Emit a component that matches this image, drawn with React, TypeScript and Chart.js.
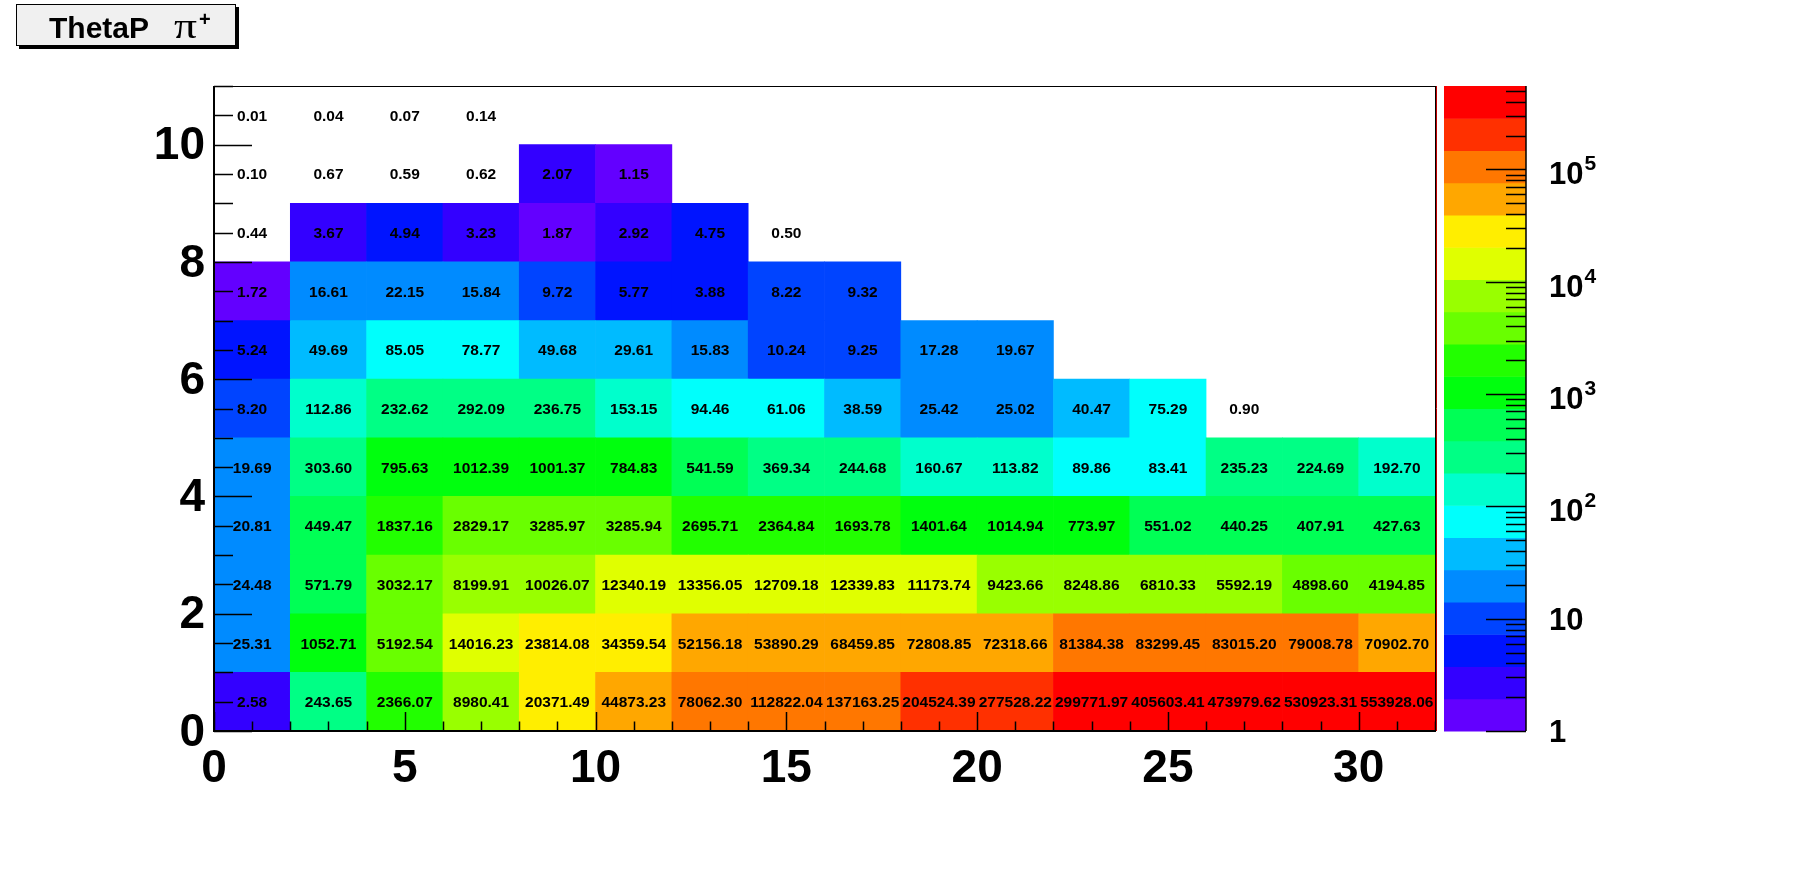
import React, { useEffect, useRef } from 'react';
import { Chart, registerables } from 'chart.js';

Chart.register(...registerables);

// ---- data ----
const xBinLow = [0, 2, 4, 6, 8, 10, 12, 14, 16, 18, 20, 22, 24, 26, 28, 30];
const xBinWidth = 2;
const yBinLow = [0, 1, 2, 3, 4, 5, 6, 7, 8, 9, 10];
const yBinWidth = 1;

const rowY0 = [2.58, 243.65, 2366.07, 8980.41, 20371.49, 44873.23, 78062.30, 112822.04, 137163.25, 204524.39, 277528.22, 299771.97, 405603.41, 473979.62, 530923.31, 553928.06];
const rowY1 = [25.31, 1052.71, 5192.54, 14016.23, 23814.08, 34359.54, 52156.18, 53890.29, 68459.85, 72808.85, 72318.66, 81384.38, 83299.45, 83015.20, 79008.78, 70902.70];
const rowY2 = [24.48, 571.79, 3032.17, 8199.91, 10026.07, 12340.19, 13356.05, 12709.18, 12339.83, 11173.74, 9423.66, 8248.86, 6810.33, 5592.19, 4898.60, 4194.85];
const rowY3 = [20.81, 449.47, 1837.16, 2829.17, 3285.97, 3285.94, 2695.71, 2364.84, 1693.78, 1401.64, 1014.94, 773.97, 551.02, 440.25, 407.91, 427.63];
const rowY4 = [19.69, 303.60, 795.63, 1012.39, 1001.37, 784.83, 541.59, 369.34, 244.68, 160.67, 113.82, 89.86, 83.41, 235.23, 224.69, 192.70];
const rowY5 = [8.20, 112.86, 232.62, 292.09, 236.75, 153.15, 94.46, 61.06, 38.59, 25.42, 25.02, 40.47, 75.29, 0.90, null, null];
const rowY6 = [5.24, 49.69, 85.05, 78.77, 49.68, 29.61, 15.83, 10.24, 9.25, 17.28, 19.67, null, null, null, null, null];
const rowY7 = [1.72, 16.61, 22.15, 15.84, 9.72, 5.77, 3.88, 8.22, 9.32, null, null, null, null, null, null, null];
const rowY8 = [0.44, 3.67, 4.94, 3.23, 1.87, 2.92, 4.75, 0.50, null, null, null, null, null, null, null, null];
const rowY9 = [0.10, 0.67, 0.59, 0.62, 2.07, 1.15, null, null, null, null, null, null, null, null, null, null];
const rowY10 = [0.01, 0.04, 0.07, 0.14, null, null, null, null, null, null, null, null, null, null, null, null];
const rows: (number | null)[][] = [rowY0, rowY1, rowY2, rowY3, rowY4, rowY5, rowY6, rowY7, rowY8, rowY9, rowY10];

const zMin = 1;
const zMax = Math.max(...rows.flat().filter((v): v is number => v !== null));
const zMajorExponents = [0, 1, 2, 3, 4, 5];

const titleMain = 'ThetaP';
const titleSymbol = 'π';
const titleSup = '+';

// ROOT "pretty" palette, 20 contour levels
const palette = [
  '#6300ff', '#3300ff', '#0014ff', '#0044ff', '#008bff',
  '#00bbff', '#00fffc', '#00ffcc', '#00ff85', '#00ff55',
  '#00ff0e', '#22ff00', '#69ff00', '#99ff00', '#e0ff00',
  '#ffee00', '#ffa700', '#ff7700', '#ff3000', '#ff0000',
];
const nLevels = palette.length;

const FONT = '"Liberation Sans", Arial, sans-serif';

function levelIndex(v: number): number {
  const L = Math.log10(zMax / zMin);
  let i = Math.floor((Math.log10(v / zMin) / L) * nLevels);
  if (i < 0) i = 0;
  if (i > nLevels - 1) i = nLevels - 1;
  return i;
}

const rootPlugin = {
  id: 'rootDecor',
  afterDatasetsDraw(chart: any) {
    const ctx: CanvasRenderingContext2D = chart.ctx;
    const xs = chart.scales.x;
    const ys = chart.scales.y;
    const zs = chart.scales.z;
    const area = chart.chartArea;

    ctx.save();
    // cell texts
    ctx.fillStyle = '#000';
    ctx.font = `bold 15.5px ${FONT}`;
    ctx.textAlign = 'center';
    ctx.textBaseline = 'alphabetic';
    rows.forEach((row, r) => {
      row.forEach((v, c) => {
        if (v === null) return;
        const px = xs.getPixelForValue(xBinLow[c] + xBinWidth / 2);
        const py = ys.getPixelForValue(yBinLow[r] + yBinWidth / 2);
        ctx.fillText(v.toFixed(2), px, py + 5.5);
      });
    });

    // axis ticks (inside frame)
    ctx.strokeStyle = '#000';
    ctx.lineWidth = 1.5;
    ctx.beginPath();
    for (let v = 0; v <= 32 + 1e-9; v += 1) {
      const px = Math.round(xs.getPixelForValue(v)) + 0.5;
      const len = v % 5 === 0 ? 19 : 9.5;
      ctx.moveTo(px, area.bottom);
      ctx.lineTo(px, area.bottom - len);
    }
    for (let v = 0; v <= 11 + 1e-9; v += 0.5) {
      const py = Math.round(ys.getPixelForValue(v)) + 0.5;
      const len = Math.abs(v % 2) < 1e-9 ? 38 : 19;
      ctx.moveTo(area.left, py);
      ctx.lineTo(area.left + len, py);
    }
    ctx.stroke();

    // frame
    ctx.lineWidth = 1;
    ctx.strokeStyle = '#000';
    ctx.strokeRect(Math.round(area.left) + 0.5, Math.round(area.top) + 0.5,
      Math.round(area.right - area.left), Math.round(area.bottom - area.top));
    ctx.lineWidth = 2;
    ctx.beginPath();
    ctx.moveTo(area.left, area.top);
    ctx.lineTo(area.left, area.bottom);
    ctx.lineTo(area.right, area.bottom);
    ctx.stroke();
    ctx.strokeStyle = '#c00000';
    ctx.lineWidth = 1;
    ctx.beginPath();
    ctx.moveTo(Math.round(area.right) + 1.5, area.top);
    ctx.lineTo(Math.round(area.right) + 1.5, area.bottom);
    ctx.stroke();

    // colour bar
    const barL = zs.left + 9;
    const barR = zs.left + 91;
    const L = Math.log10(zMax / zMin);
    for (let i = 0; i < nLevels; i++) {
      const lo = zMin * Math.pow(10, (i * L) / nLevels);
      const hi = zMin * Math.pow(10, ((i + 1) * L) / nLevels);
      const y1 = zs.getPixelForValue(hi);
      const y2 = zs.getPixelForValue(lo);
      ctx.fillStyle = palette[i];
      ctx.fillRect(barL, y1, barR - barL, y2 - y1 + 0.5);
    }
    ctx.strokeStyle = '#000';
    ctx.lineWidth = 2;
    ctx.beginPath();
    ctx.moveTo(barR, zs.top);
    ctx.lineTo(barR, zs.bottom);
    for (const e of zMajorExponents) {
      for (let k = 1; k <= 9; k++) {
        const v = k * Math.pow(10, e);
        if (v > zMax) break;
        const py = Math.round(zs.getPixelForValue(v)) + 0.5;
        const len = k === 1 ? 40 : 20;
        ctx.moveTo(barR, py);
        ctx.lineTo(barR - len, py);
      }
    }
    ctx.lineWidth = 1.5;
    ctx.stroke();

    // colour bar labels
    ctx.fillStyle = '#000';
    ctx.textAlign = 'left';
    ctx.textBaseline = 'alphabetic';
    const lx = zs.left + 114;
    for (const e of zMajorExponents) {
      const py = zs.getPixelForValue(Math.pow(10, e));
      ctx.font = `bold 31px ${FONT}`;
      if (e === 0) {
        ctx.fillText('1', lx, py + 11);
      } else if (e === 1) {
        ctx.fillText('10', lx, py + 11);
      } else {
        ctx.fillText('10', lx, py + 15);
        const w = ctx.measureText('10').width;
        ctx.font = `bold 21px ${FONT}`;
        ctx.fillText(String(e), lx + w + 1, py + 1);
      }
    }
    ctx.restore();
  },
  afterDraw(chart: any) {
    const ctx: CanvasRenderingContext2D = chart.ctx;
    ctx.save();
    // title box with shadow
    ctx.fillStyle = '#000';
    ctx.fillRect(19, 7, 220, 42);
    ctx.fillStyle = '#f0f0f0';
    ctx.fillRect(16, 4, 220, 42);
    ctx.strokeStyle = '#000';
    ctx.lineWidth = 1;
    ctx.strokeRect(16.5, 4.5, 219, 41);
    ctx.fillStyle = '#000';
    ctx.textAlign = 'left';
    ctx.textBaseline = 'alphabetic';
    ctx.font = `bold 30px ${FONT}`;
    ctx.fillText(titleMain, 49, 38);
    // pi, stretched horizontally like ROOT's Symbol glyph
    ctx.font = `36px "Liberation Serif", "DejaVu Serif", serif`;
    const pw = ctx.measureText(titleSymbol).width;
    const sx = 23 / pw;
    ctx.save();
    ctx.translate(174, 38);
    ctx.scale(sx, 1);
    ctx.fillText(titleSymbol, 0, 0);
    ctx.restore();
    ctx.font = `bold 20px ${FONT}`;
    ctx.fillText(titleSup, 199, 26);
    ctx.restore();
  },
};

export default function App() {
  const ref = useRef<HTMLCanvasElement>(null);
  useEffect(() => {
    const canvas = ref.current;
    if (!canvas) return;
    const datasets = rows.map((row, r) => {
      const data: any[] = [];
      const colors: string[] = [];
      row.forEach((v, c) => {
        if (v === null || v < zMin) return;
        data.push({ x: xBinLow[c] + xBinWidth / 2, y: [yBinLow[r], yBinLow[r] + yBinWidth] });
        colors.push(palette[levelIndex(v)]);
      });
      return {
        label: `y${yBinLow[r]}`,
        data,
        backgroundColor: colors,
        borderWidth: 0,
        grouped: false,
        barPercentage: 1,
        categoryPercentage: 1,
      };
    });

    const chart = new Chart(canvas, {
      type: 'bar',
      data: { datasets },
      options: {
        responsive: false,
        animation: false,
        devicePixelRatio: 1,
        layout: { padding: { left: 114, right: 200, top: 86, bottom: 61 } },
        plugins: { legend: { display: false }, tooltip: { enabled: false } },
        scales: {
          x: {
            type: 'linear',
            position: 'bottom',
            min: 0,
            max: 32,
            offset: false,
            grid: { display: false, drawTicks: false, tickLength: 0 },
            border: { display: false },
            ticks: {
              stepSize: 5,
              includeBounds: false,
              padding: 11,
              color: '#000',
              font: { family: FONT, size: 46, weight: 'bold' },
              maxRotation: 0,
              autoSkip: false,
            },
            afterFit: (s: any) => { s.height = 80; },
          },
          y: {
            type: 'linear',
            position: 'left',
            min: 0,
            max: 11,
            grid: { display: false, drawTicks: false, tickLength: 0 },
            border: { display: false },
            ticks: {
              stepSize: 2,
              includeBounds: false,
              padding: 9,
              labelOffset: 2,
              color: '#000',
              font: { family: FONT, size: 46, weight: 'bold' },
              autoSkip: false,
            },
            afterFit: (s: any) => { s.width = 100; },
          },
          z: {
            type: 'logarithmic',
            position: 'right',
            min: zMin,
            max: zMax,
            bounds: 'data',
            grid: { display: false, drawTicks: false, tickLength: 0 },
            border: { display: false },
            ticks: { display: false },
            afterFit: (s: any) => { s.width = 161; },
          },
        },
      } as any,
      plugins: [rootPlugin],
    });
    return () => chart.destroy();
  }, []);

  return (
    <div style={{ position: 'absolute', left: 0, top: 0, width: 1796, height: 872, background: '#fff' }}>
      <canvas ref={ref} width={1796} height={872} style={{ width: 1796, height: 872, display: 'block' }} />
    </div>
  );
}
